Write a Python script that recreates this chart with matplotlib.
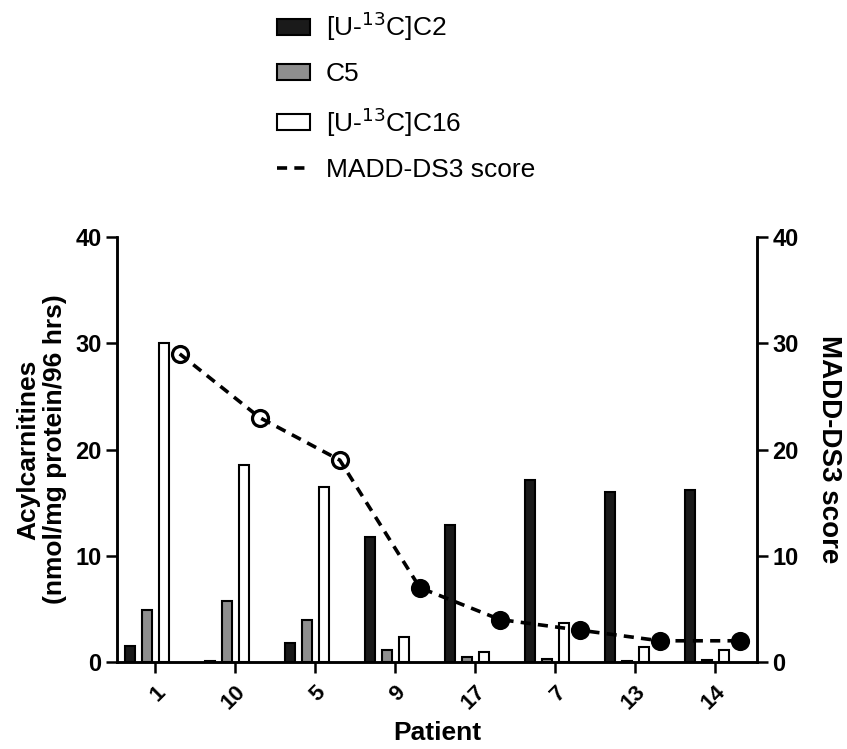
import matplotlib.pyplot as plt
import numpy as np
from matplotlib.lines import Line2D
from matplotlib.patches import Patch

plt.rcParams['font.family'] = ['Liberation Sans', 'DejaVu Sans']

# ----------------------- Data ------------------------------------------------
patients = ["1", "10", "5", "9", "17", "7", "13", "14"]
c2 = [1.5, 0.1, 1.8, 11.8, 12.9, 17.1, 16.0, 16.2]
c5 = [4.9, 5.7, 4.0, 1.1, 0.5, 0.3, 0.1, 0.2]
c16 = [30.0, 18.5, 16.5, 2.4, 0.9, 3.7, 1.4, 1.1]
score = [29, 23, 19, 7, 4, 3, 2, 2]
score_open = [True, True, True, False, False, False, False, False]

BLACK = '#1a1a1a'
GREY = '#8e8e8e'
DASH = (0, (2.8, 2.0))

x = np.arange(len(patients))
w = 0.125

fig = plt.figure(figsize=(8.47, 7.49), dpi=100)
ax = fig.add_axes([0.138, 0.1161, 0.756, 0.5675])

ax.bar(x - 0.31, c2, w, color=BLACK, edgecolor='black', linewidth=1.5)
ax.bar(x - 0.10, c5, w, color=GREY, edgecolor='black', linewidth=1.5)
ax.bar(x + 0.11, c16, w, color='white', edgecolor='black', linewidth=1.5)

ax.set_xlim(-0.475, 7.525)
ax.set_ylim(0, 40)
ax.set_yticks([0, 10, 20, 30, 40])
ax.set_xticks(x)
ax.set_xticklabels(patients, rotation=45, ha='right', rotation_mode='anchor',
                   fontsize=16, fontweight='bold')
ax.tick_params(axis='y', labelsize=17, width=1.8, length=8, pad=3)
ax.tick_params(axis='x', width=1.8, length=8, pad=6)
for lbl in ax.get_yticklabels():
    lbl.set_fontweight('bold')
ax.spines['top'].set_visible(False)
for s in ['left', 'bottom', 'right']:
    ax.spines[s].set_linewidth(1.8)
ax.set_ylabel('Acylcarnitines\n(nmol/mg protein/96 hrs)', fontsize=19,
              fontweight='bold', labelpad=6, linespacing=1.15)
ax.set_xlabel('Patient', fontsize=19, fontweight='bold', labelpad=5)

ax2 = ax.twinx()
ax2.set_ylim(0, 40)
ax2.set_yticks([0, 10, 20, 30, 40])
ax2.tick_params(axis='y', labelsize=17, width=1.8, length=8, pad=3)
for lbl in ax2.get_yticklabels():
    lbl.set_fontweight('bold')
ax2.spines['top'].set_visible(False)
for s in ['left', 'bottom', 'right']:
    ax2.spines[s].set_linewidth(1.8)
ax2.set_ylabel('MADD-DS3 score', fontsize=20, fontweight='bold',
               rotation=-90, labelpad=31)

xs = x + 0.31
ax2.plot(xs, score, color='black', linestyle=DASH, linewidth=2.6, zorder=3)
for xi, yi, op in zip(xs, score, score_open):
    ax2.plot(xi, yi, 'o', markersize=11.5, markeredgewidth=2.3,
             markerfacecolor='none' if op else 'black',
             markeredgecolor='black', zorder=4)

handles = [
    Patch(facecolor=BLACK, edgecolor='black', linewidth=1.5),
    Patch(facecolor=GREY, edgecolor='black', linewidth=1.5),
    Patch(facecolor='white', edgecolor='black', linewidth=1.5),
    Line2D([], [], color='black', linestyle=DASH, linewidth=2.6),
]
labels = ['[U-$^{13}$C]C2', 'C5', '[U-$^{13}$C]C16', 'MADD-DS3 score']
fig.legend(handles, labels, loc='upper left', bbox_to_anchor=(0.327, 0.987),
           frameon=False, fontsize=19, handlelength=1.25, handleheight=0.55,
           labelspacing=0.72, handletextpad=0.6, borderpad=0, borderaxespad=0)

fig.savefig('out.png', dpi=100)
